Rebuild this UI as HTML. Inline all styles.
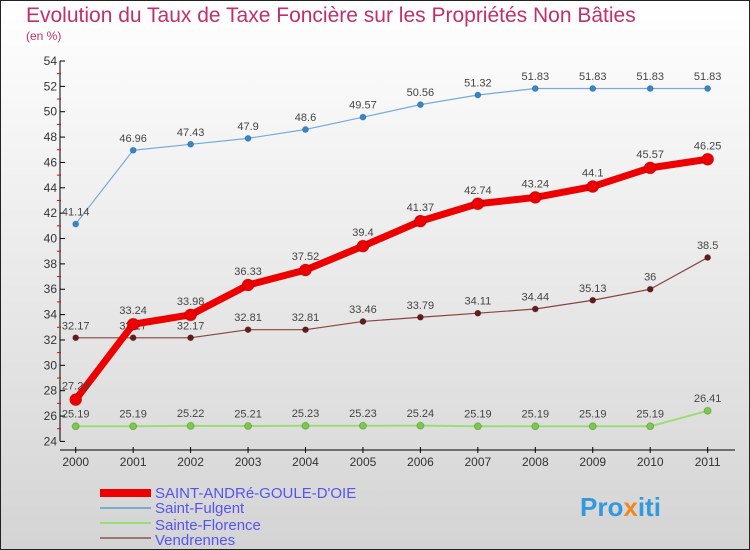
<!DOCTYPE html>
<html><head><meta charset="utf-8"><style>
body{margin:0}
#c{width:750px;height:550px;position:relative;overflow:hidden;font-family:"Liberation Sans",sans-serif}
</style></head><body>
<div id="c">
<svg id="s" width="750" height="550" xmlns="http://www.w3.org/2000/svg">
<defs><linearGradient id="bg" x1="0" y1="0" x2="0" y2="1"><stop offset="0" stop-color="#ffffff"/><stop offset="1" stop-color="#d4d4d4"/></linearGradient></defs>
<rect x="0.5" y="0.5" width="749" height="549" fill="url(#bg)" stroke="#222"/>
<text x="26" y="22" font-size="21" fill="#c0306a">Evolution du Taux de Taxe Foncière sur les Propriétés Non Bâties</text>
<text x="26" y="40" font-size="12" fill="#c0306a">(en %)</text>
<g id="axes"></g><g id="series"></g>
<g>
<rect x="100" y="489" width="51" height="8" fill="#e00"/>
<text x="155" y="498" font-size="15" fill="#5555ee">SAINT-ANDRé-GOULE-D'OIE</text>
<line x1="100" y1="508" x2="151" y2="508" stroke="#7aaacc" stroke-width="2"/>
<text x="155" y="513" font-size="15" fill="#5555ee">Saint-Fulgent</text>
<line x1="100" y1="523" x2="151" y2="523" stroke="#99dd77" stroke-width="2"/>
<text x="155" y="530" font-size="15" fill="#5555ee">Sainte-Florence</text>
<line x1="100" y1="538" x2="151" y2="538" stroke="#997777" stroke-width="2"/>
<text x="155" y="545" font-size="15" fill="#5555ee">Vendrennes</text>
</g>
<text x="580" y="516" font-size="26" font-weight="bold" fill="#3399dd">Pro<tspan fill="#ee8822">x</tspan>iti</text>
</svg></div>
<script>
const years=["2000","2001","2002","2003","2004","2005","2006","2007","2008","2009","2010","2011"];
const yTicks=[24,26,28,30,32,34,36,38,40,42,44,46,48,50,52,54];
const saintAndre=[27.29,33.24,33.98,36.33,37.52,39.4,41.37,42.74,43.24,44.1,45.57,46.25];
const saintFulgent=[41.14,46.96,47.43,47.9,48.6,49.57,50.56,51.32,51.83,51.83,51.83,51.83];
const sainteFlorence=[25.19,25.19,25.22,25.21,25.23,25.23,25.24,25.19,25.19,25.19,25.19,26.41];
const vendrennes=[32.17,32.17,32.17,32.81,32.81,33.46,33.79,34.11,34.44,35.13,36,38.5];
const NS="http://www.w3.org/2000/svg";
const X=i=>75.7+i*57.45;
const Y=v=>61+(54-v)*12.68;
function mk(t,a,p){const e=document.createElementNS(NS,t);for(const k in a)e.setAttribute(k,a[k]);p.appendChild(e);return e;}
const ax=document.getElementById('axes');
let l=mk('line',{x1:60,y1:Y(54),x2:60,y2:Y(24),stroke:'#000'},ax);


l=mk('line',{x1:60,y1:450,x2:735,y2:450,stroke:'#000'},ax);


const topTick=yTicks[yTicks.length-1];
yTicks.forEach(v=>{
 mk('line',{x1:60,y1:Y(v),x2:65,y2:Y(v),stroke:'#000'},ax);
 if(v<topTick) mk('line',{x1:57,y1:Y(v+1),x2:61,y2:Y(v+1),stroke:'#e00'},ax);
 const t=mk('text',{x:57,y:Y(v)+4,'font-size':12,fill:'#333','text-anchor':'end'},ax);t.textContent=v;
 
 
});
years.forEach((y,i)=>{
 mk('line',{x1:X(i),y1:447,x2:X(i),y2:453,stroke:'#000'},ax);
 const t=mk('text',{x:X(i),y:466,'font-size':12,fill:'#333','text-anchor':'middle'},ax);t.textContent=y;
 
 
});
const sg=document.getElementById('series');
function series(name,data,color,w,r,dot){
 const g=mk('g',{},sg);
 
 
 mk('polyline',{points:data.map((v,i)=>X(i)+','+Y(v)).join(' '),fill:'none',stroke:color,'stroke-width':w,'stroke-linejoin':'round'},g);
 data.forEach((v,i)=>{
  const c=mk('circle',{cx:X(i),cy:Y(v),r:r,fill:dot,stroke:'#0003'},g);
  
  
  const t=mk('text',{x:X(i),y:Y(v)-7-r/2,'font-size':11,fill:'#444','text-anchor':'middle'},g);t.textContent=v;
  
  
 });
}
series('vendrennes-series',vendrennes,'#884444',1.2,3,'#661a1a');
series('sainte-florence-series',sainteFlorence,'#99dd77',2,3.5,'#77cc44');
series('saint-fulgent-series',saintFulgent,'#77aadd',1.2,3,'#3388cc');
series('saint-andre-series',saintAndre,'#ee0000',7,6,'#ee0000');
</script>
</body></html>
